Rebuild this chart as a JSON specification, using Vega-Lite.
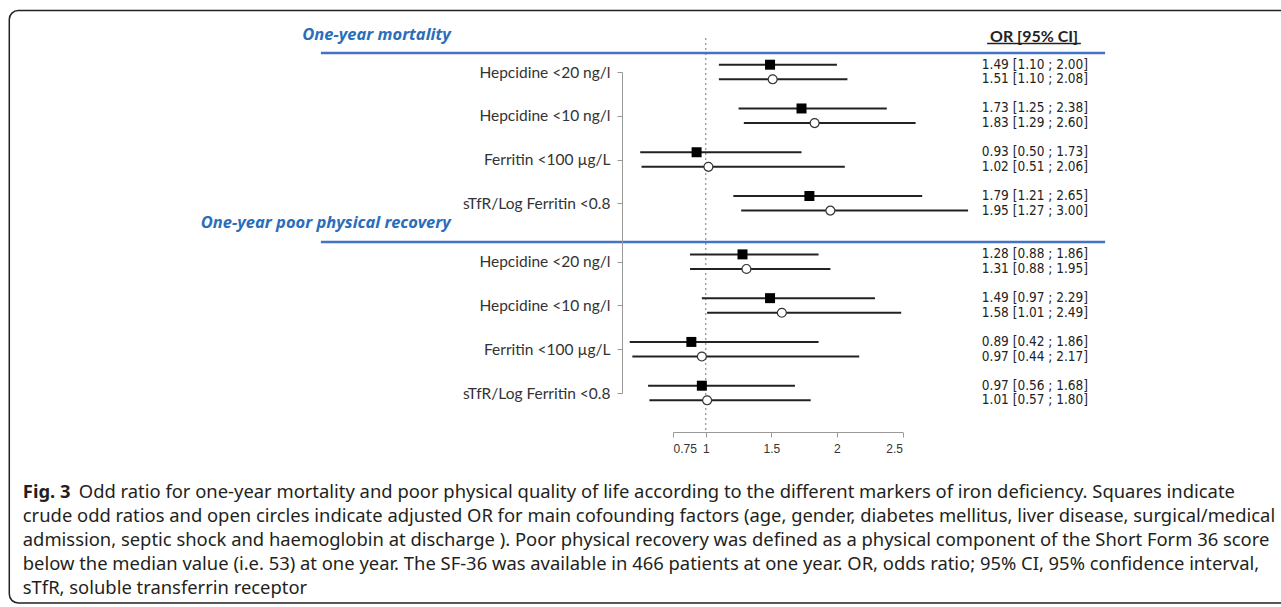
{
  "$schema": "https://vega.github.io/schema/vega-lite/v6.json",
  "autosize": {"type": "none"},
  "padding": {"left": 673, "top": 72, "right": 378.5, "bottom": 214},
  "width": 229.5,
  "height": 321,
  "background": "white",
  "config": {"view": {"stroke": null}, "axis": {"grid": false}},
  "data": {"values": [
    {"group": "One-year mortality", "item": "M|Hepcidine <20 ng/l", "type": "crude", "or": 1.49, "lo": 1.10, "hi": 2.00, "txt": "1.49 [1.10 ; 2.00]"},
    {"group": "One-year mortality", "item": "M|Hepcidine <20 ng/l", "type": "adjusted", "or": 1.51, "lo": 1.10, "hi": 2.08, "txt": "1.51 [1.10 ; 2.08]"},
    {"group": "One-year mortality", "item": "M|Hepcidine <10 ng/l", "type": "crude", "or": 1.73, "lo": 1.25, "hi": 2.38, "txt": "1.73 [1.25 ; 2.38]"},
    {"group": "One-year mortality", "item": "M|Hepcidine <10 ng/l", "type": "adjusted", "or": 1.83, "lo": 1.29, "hi": 2.60, "txt": "1.83 [1.29 ; 2.60]"},
    {"group": "One-year mortality", "item": "M|Ferritin <100 µg/L", "type": "crude", "or": 0.93, "lo": 0.50, "hi": 1.73, "txt": "0.93 [0.50 ; 1.73]"},
    {"group": "One-year mortality", "item": "M|Ferritin <100 µg/L", "type": "adjusted", "or": 1.02, "lo": 0.51, "hi": 2.06, "txt": "1.02 [0.51 ; 2.06]"},
    {"group": "One-year mortality", "item": "M|sTfR/Log Ferritin <0.8", "type": "crude", "or": 1.79, "lo": 1.21, "hi": 2.65, "txt": "1.79 [1.21 ; 2.65]"},
    {"group": "One-year mortality", "item": "M|sTfR/Log Ferritin <0.8", "type": "adjusted", "or": 1.95, "lo": 1.27, "hi": 3.00, "txt": "1.95 [1.27 ; 3.00]"},
    {"group": "One-year poor physical recovery", "item": "R|Hepcidine <20 ng/l", "type": "crude", "or": 1.28, "lo": 0.88, "hi": 1.86, "txt": "1.28 [0.88 ; 1.86]"},
    {"group": "One-year poor physical recovery", "item": "R|Hepcidine <20 ng/l", "type": "adjusted", "or": 1.31, "lo": 0.88, "hi": 1.95, "txt": "1.31 [0.88 ; 1.95]"},
    {"group": "One-year poor physical recovery", "item": "R|Hepcidine <10 ng/l", "type": "crude", "or": 1.49, "lo": 0.97, "hi": 2.29, "txt": "1.49 [0.97 ; 2.29]"},
    {"group": "One-year poor physical recovery", "item": "R|Hepcidine <10 ng/l", "type": "adjusted", "or": 1.58, "lo": 1.01, "hi": 2.49, "txt": "1.58 [1.01 ; 2.49]"},
    {"group": "One-year poor physical recovery", "item": "R|Ferritin <100 µg/L", "type": "crude", "or": 0.89, "lo": 0.42, "hi": 1.86, "txt": "0.89 [0.42 ; 1.86]"},
    {"group": "One-year poor physical recovery", "item": "R|Ferritin <100 µg/L", "type": "adjusted", "or": 0.97, "lo": 0.44, "hi": 2.17, "txt": "0.97 [0.44 ; 2.17]"},
    {"group": "One-year poor physical recovery", "item": "R|sTfR/Log Ferritin <0.8", "type": "crude", "or": 0.97, "lo": 0.56, "hi": 1.68, "txt": "0.97 [0.56 ; 1.68]"},
    {"group": "One-year poor physical recovery", "item": "R|sTfR/Log Ferritin <0.8", "type": "adjusted", "or": 1.01, "lo": 0.57, "hi": 1.80, "txt": "1.01 [0.57 ; 1.80]"}
  ]},
  "layer": [
    {
      "data": {"values": [{}]},
      "mark": {"type": "rect", "fill": "transparent", "stroke": "#222", "strokeWidth": 1.5, "cornerRadius": 9, "yOffset": -61.5, "y2Offset": 210},
      "encoding": {
        "x": {"datum": -4.311, "type": "quantitative", "scale": {"domain": [0.75, 2.5], "nice": false, "zero": false}},
        "x2": {"datum": 5.6},
        "y": {"datum": "M|Hepcidine <20 ng/l", "type": "nominal", "scale": {"type": "point", "padding": 0, "domain": ["M|Hepcidine <20 ng/l", "s1", "s2", "M|Hepcidine <10 ng/l", "s3", "s4", "M|Ferritin <100 µg/L", "s5", "s6", "M|sTfR/Log Ferritin <0.8", "s7", "s8", "s9", "R|Hepcidine <20 ng/l", "s10", "s11", "R|Hepcidine <10 ng/l", "s12", "s13", "R|Ferritin <100 µg/L", "s14", "s15", "R|sTfR/Log Ferritin <0.8"]}},
        "y2": {"datum": "R|sTfR/Log Ferritin <0.8"}
      }
    },
    {
      "data": {"values": [{}]},
      "mark": {"type": "rule", "strokeDash": [2, 3], "color": "#777", "strokeWidth": 1, "yOffset": -34, "y2Offset": 37},
      "encoding": {
        "x": {"datum": 1, "type": "quantitative", "scale": {"domain": [0.75, 2.5], "nice": false, "zero": false}},
        "y": {"datum": "M|Hepcidine <20 ng/l", "type": "nominal", "scale": {"type": "point", "padding": 0, "domain": ["M|Hepcidine <20 ng/l", "s1", "s2", "M|Hepcidine <10 ng/l", "s3", "s4", "M|Ferritin <100 µg/L", "s5", "s6", "M|sTfR/Log Ferritin <0.8", "s7", "s8", "s9", "R|Hepcidine <20 ng/l", "s10", "s11", "R|Hepcidine <10 ng/l", "s12", "s13", "R|Ferritin <100 µg/L", "s14", "s15", "R|sTfR/Log Ferritin <0.8"]}},
        "y2": {"datum": "R|sTfR/Log Ferritin <0.8"}
      }
    },
    {
      "transform": [{"filter": "datum.type === 'crude'"}],
      "mark": {"type": "rule", "color": "#222", "strokeWidth": 2, "yOffset": -7.3},
      "encoding": {
        "x": {"field": "lo", "type": "quantitative", "scale": {"domain": [0.75, 2.5], "nice": false, "zero": false},
          "axis": {"title": null, "values": [0.75, 1, 1.5, 2, 2.5], "labelExpr": "'' + datum.value", "offset": 39, "domainColor": "#999", "tickColor": "#999", "tickSize": 5, "labelFont": "Liberation Sans", "labelFontSize": 12, "labelColor": "#333", "labelPadding": 6}},
        "x2": {"field": "hi"},
        "y": {"field": "item", "type": "nominal", "scale": {"type": "point", "padding": 0, "domain": ["M|Hepcidine <20 ng/l", "s1", "s2", "M|Hepcidine <10 ng/l", "s3", "s4", "M|Ferritin <100 µg/L", "s5", "s6", "M|sTfR/Log Ferritin <0.8", "s7", "s8", "s9", "R|Hepcidine <20 ng/l", "s10", "s11", "R|Hepcidine <10 ng/l", "s12", "s13", "R|Ferritin <100 µg/L", "s14", "s15", "R|sTfR/Log Ferritin <0.8"]},
          "axis": {"title": null, "values": ["M|Hepcidine <20 ng/l", "M|Hepcidine <10 ng/l", "M|Ferritin <100 µg/L", "M|sTfR/Log Ferritin <0.8", "R|Hepcidine <20 ng/l", "R|Hepcidine <10 ng/l", "R|Ferritin <100 µg/L", "R|sTfR/Log Ferritin <0.8"], "labelExpr": "split(datum.value, '|')[1]", "offset": 51, "domainColor": "#999", "tickColor": "#999", "tickSize": 5, "labelFont": "Lato", "labelFontSize": 15.5, "labelColor": "#333", "labelPadding": 7, "labelLimit": 400}}
      }
    },
    {
      "transform": [{"filter": "datum.type === 'adjusted'"}],
      "mark": {"type": "rule", "color": "#222", "strokeWidth": 2, "yOffset": 7.3},
      "encoding": {
        "x": {"field": "lo", "type": "quantitative", "scale": {"domain": [0.75, 2.5], "nice": false, "zero": false}},
        "x2": {"field": "hi"},
        "y": {"field": "item", "type": "nominal", "scale": {"type": "point", "padding": 0, "domain": ["M|Hepcidine <20 ng/l", "s1", "s2", "M|Hepcidine <10 ng/l", "s3", "s4", "M|Ferritin <100 µg/L", "s5", "s6", "M|sTfR/Log Ferritin <0.8", "s7", "s8", "s9", "R|Hepcidine <20 ng/l", "s10", "s11", "R|Hepcidine <10 ng/l", "s12", "s13", "R|Ferritin <100 µg/L", "s14", "s15", "R|sTfR/Log Ferritin <0.8"]}}
      }
    },
    {
      "transform": [{"filter": "datum.type === 'crude'"}],
      "mark": {"type": "square", "filled": true, "color": "#000", "opacity": 1, "size": 100, "yOffset": -7.3},
      "encoding": {
        "x": {"field": "or", "type": "quantitative", "scale": {"domain": [0.75, 2.5], "nice": false, "zero": false}},
        "y": {"field": "item", "type": "nominal", "scale": {"type": "point", "padding": 0, "domain": ["M|Hepcidine <20 ng/l", "s1", "s2", "M|Hepcidine <10 ng/l", "s3", "s4", "M|Ferritin <100 µg/L", "s5", "s6", "M|sTfR/Log Ferritin <0.8", "s7", "s8", "s9", "R|Hepcidine <20 ng/l", "s10", "s11", "R|Hepcidine <10 ng/l", "s12", "s13", "R|Ferritin <100 µg/L", "s14", "s15", "R|sTfR/Log Ferritin <0.8"]}}
      }
    },
    {
      "transform": [{"filter": "datum.type === 'adjusted'"}],
      "mark": {"type": "point", "shape": "circle", "filled": true, "fill": "white", "stroke": "#333", "strokeWidth": 1.2, "opacity": 1, "size": 80, "yOffset": 7.3},
      "encoding": {
        "x": {"field": "or", "type": "quantitative", "scale": {"domain": [0.75, 2.5], "nice": false, "zero": false}},
        "y": {"field": "item", "type": "nominal", "scale": {"type": "point", "padding": 0, "domain": ["M|Hepcidine <20 ng/l", "s1", "s2", "M|Hepcidine <10 ng/l", "s3", "s4", "M|Ferritin <100 µg/L", "s5", "s6", "M|sTfR/Log Ferritin <0.8", "s7", "s8", "s9", "R|Hepcidine <20 ng/l", "s10", "s11", "R|Hepcidine <10 ng/l", "s12", "s13", "R|Ferritin <100 µg/L", "s14", "s15", "R|sTfR/Log Ferritin <0.8"]}}
      }
    },
    {
      "transform": [{"filter": "datum.type === 'crude'"}],
      "mark": {"type": "text", "align": "right", "baseline": "middle", "font": "Liberation Sans Narrow, DejaVu Sans Condensed, sans-serif", "fontSize": 13.5, "color": "#222", "yOffset": -7.3},
      "encoding": {
        "x": {"datum": 3.915, "type": "quantitative", "scale": {"domain": [0.75, 2.5], "nice": false, "zero": false}},
        "y": {"field": "item", "type": "nominal", "scale": {"type": "point", "padding": 0, "domain": ["M|Hepcidine <20 ng/l", "s1", "s2", "M|Hepcidine <10 ng/l", "s3", "s4", "M|Ferritin <100 µg/L", "s5", "s6", "M|sTfR/Log Ferritin <0.8", "s7", "s8", "s9", "R|Hepcidine <20 ng/l", "s10", "s11", "R|Hepcidine <10 ng/l", "s12", "s13", "R|Ferritin <100 µg/L", "s14", "s15", "R|sTfR/Log Ferritin <0.8"]}},
        "text": {"field": "txt"}
      }
    },
    {
      "transform": [{"filter": "datum.type === 'adjusted'"}],
      "mark": {"type": "text", "align": "right", "baseline": "middle", "font": "Liberation Sans Narrow, DejaVu Sans Condensed, sans-serif", "fontSize": 13.5, "color": "#222", "yOffset": 7.3},
      "encoding": {
        "x": {"datum": 3.915, "type": "quantitative", "scale": {"domain": [0.75, 2.5], "nice": false, "zero": false}},
        "y": {"field": "item", "type": "nominal", "scale": {"type": "point", "padding": 0, "domain": ["M|Hepcidine <20 ng/l", "s1", "s2", "M|Hepcidine <10 ng/l", "s3", "s4", "M|Ferritin <100 µg/L", "s5", "s6", "M|sTfR/Log Ferritin <0.8", "s7", "s8", "s9", "R|Hepcidine <20 ng/l", "s10", "s11", "R|Hepcidine <10 ng/l", "s12", "s13", "R|Ferritin <100 µg/L", "s14", "s15", "R|sTfR/Log Ferritin <0.8"]}},
        "text": {"field": "txt"}
      }
    },
    {
      "data": {"values": [{}]},
      "mark": {"type": "rule", "color": "#4472c4", "strokeWidth": 2.5, "yOffset": -19},
      "encoding": {
        "x": {"datum": -1.935, "type": "quantitative", "scale": {"domain": [0.75, 2.5], "nice": false, "zero": false}},
        "x2": {"datum": 4.045},
        "y": {"datum": "M|Hepcidine <20 ng/l", "type": "nominal", "scale": {"type": "point", "padding": 0, "domain": ["M|Hepcidine <20 ng/l", "s1", "s2", "M|Hepcidine <10 ng/l", "s3", "s4", "M|Ferritin <100 µg/L", "s5", "s6", "M|sTfR/Log Ferritin <0.8", "s7", "s8", "s9", "R|Hepcidine <20 ng/l", "s10", "s11", "R|Hepcidine <10 ng/l", "s12", "s13", "R|Ferritin <100 µg/L", "s14", "s15", "R|sTfR/Log Ferritin <0.8"]}}
      }
    },
    {
      "data": {"values": [{}]},
      "mark": {"type": "rule", "color": "#4472c4", "strokeWidth": 2.5, "yOffset": -19.7},
      "encoding": {
        "x": {"datum": -1.935, "type": "quantitative", "scale": {"domain": [0.75, 2.5], "nice": false, "zero": false}},
        "x2": {"datum": 4.045},
        "y": {"datum": "R|Hepcidine <20 ng/l", "type": "nominal", "scale": {"type": "point", "padding": 0, "domain": ["M|Hepcidine <20 ng/l", "s1", "s2", "M|Hepcidine <10 ng/l", "s3", "s4", "M|Ferritin <100 µg/L", "s5", "s6", "M|sTfR/Log Ferritin <0.8", "s7", "s8", "s9", "R|Hepcidine <20 ng/l", "s10", "s11", "R|Hepcidine <10 ng/l", "s12", "s13", "R|Ferritin <100 µg/L", "s14", "s15", "R|sTfR/Log Ferritin <0.8"]}}
      }
    },
    {
      "data": {"values": [{}]},
      "mark": {"type": "text", "text": "One-year mortality", "align": "right", "baseline": "middle", "font": "Noto Sans", "fontSize": 16.5, "fontStyle": "italic", "fontWeight": "bold", "color": "#2a6ebb", "yOffset": -37},
      "encoding": {
        "x": {"datum": -0.944, "type": "quantitative", "scale": {"domain": [0.75, 2.5], "nice": false, "zero": false}},
        "y": {"datum": "M|Hepcidine <20 ng/l", "type": "nominal", "scale": {"type": "point", "padding": 0, "domain": ["M|Hepcidine <20 ng/l", "s1", "s2", "M|Hepcidine <10 ng/l", "s3", "s4", "M|Ferritin <100 µg/L", "s5", "s6", "M|sTfR/Log Ferritin <0.8", "s7", "s8", "s9", "R|Hepcidine <20 ng/l", "s10", "s11", "R|Hepcidine <10 ng/l", "s12", "s13", "R|Ferritin <100 µg/L", "s14", "s15", "R|sTfR/Log Ferritin <0.8"]}}
      }
    },
    {
      "data": {"values": [{}]},
      "mark": {"type": "text", "text": "One-year poor physical recovery", "align": "right", "baseline": "middle", "font": "Noto Sans", "fontSize": 16.5, "fontStyle": "italic", "fontWeight": "bold", "color": "#2a6ebb", "yOffset": -38.7},
      "encoding": {
        "x": {"datum": -0.944, "type": "quantitative", "scale": {"domain": [0.75, 2.5], "nice": false, "zero": false}},
        "y": {"datum": "R|Hepcidine <20 ng/l", "type": "nominal", "scale": {"type": "point", "padding": 0, "domain": ["M|Hepcidine <20 ng/l", "s1", "s2", "M|Hepcidine <10 ng/l", "s3", "s4", "M|Ferritin <100 µg/L", "s5", "s6", "M|sTfR/Log Ferritin <0.8", "s7", "s8", "s9", "R|Hepcidine <20 ng/l", "s10", "s11", "R|Hepcidine <10 ng/l", "s12", "s13", "R|Ferritin <100 µg/L", "s14", "s15", "R|sTfR/Log Ferritin <0.8"]}}
      }
    },
    {
      "data": {"values": [{}]},
      "mark": {"type": "text", "text": "OR [95% CI]", "align": "center", "baseline": "middle", "font": "Lato", "fontSize": 16, "fontWeight": "bold", "color": "#222", "yOffset": -35.3},
      "encoding": {
        "x": {"datum": 3.503, "type": "quantitative", "scale": {"domain": [0.75, 2.5], "nice": false, "zero": false}},
        "y": {"datum": "M|Hepcidine <20 ng/l", "type": "nominal", "scale": {"type": "point", "padding": 0, "domain": ["M|Hepcidine <20 ng/l", "s1", "s2", "M|Hepcidine <10 ng/l", "s3", "s4", "M|Ferritin <100 µg/L", "s5", "s6", "M|sTfR/Log Ferritin <0.8", "s7", "s8", "s9", "R|Hepcidine <20 ng/l", "s10", "s11", "R|Hepcidine <10 ng/l", "s12", "s13", "R|Ferritin <100 µg/L", "s14", "s15", "R|sTfR/Log Ferritin <0.8"]}}
      }
    },
    {
      "data": {"values": [{}]},
      "mark": {"type": "rule", "color": "#222", "strokeWidth": 1.3, "yOffset": -28.5},
      "encoding": {
        "x": {"datum": 3.145, "type": "quantitative", "scale": {"domain": [0.75, 2.5], "nice": false, "zero": false}},
        "x2": {"datum": 3.86},
        "y": {"datum": "M|Hepcidine <20 ng/l", "type": "nominal", "scale": {"type": "point", "padding": 0, "domain": ["M|Hepcidine <20 ng/l", "s1", "s2", "M|Hepcidine <10 ng/l", "s3", "s4", "M|Ferritin <100 µg/L", "s5", "s6", "M|sTfR/Log Ferritin <0.8", "s7", "s8", "s9", "R|Hepcidine <20 ng/l", "s10", "s11", "R|Hepcidine <10 ng/l", "s12", "s13", "R|Ferritin <100 µg/L", "s14", "s15", "R|sTfR/Log Ferritin <0.8"]}}
      }
    },
    {
      "data": {"values": [{}]},
      "mark": {"type": "text", "text": "Fig. 3", "align": "left", "baseline": "middle", "font": "Noto Sans", "fontSize": 18.4, "fontWeight": "bold", "color": "#231f20", "yOffset": 98.7},
      "encoding": {
        "x": {"datum": -4.208, "type": "quantitative", "scale": {"domain": [0.75, 2.5], "nice": false, "zero": false}},
        "y": {"datum": "R|sTfR/Log Ferritin <0.8", "type": "nominal", "scale": {"type": "point", "padding": 0, "domain": ["M|Hepcidine <20 ng/l", "s1", "s2", "M|Hepcidine <10 ng/l", "s3", "s4", "M|Ferritin <100 µg/L", "s5", "s6", "M|sTfR/Log Ferritin <0.8", "s7", "s8", "s9", "R|Hepcidine <20 ng/l", "s10", "s11", "R|Hepcidine <10 ng/l", "s12", "s13", "R|Ferritin <100 µg/L", "s14", "s15", "R|sTfR/Log Ferritin <0.8"]}}
      }
    },
    {
      "data": {"values": [{}]},
      "mark": {"type": "text", "text": "Odd ratio for one-year mortality and poor physical quality of life according to the different markers of iron deficiency. Squares indicate", "align": "left", "baseline": "middle", "font": "Noto Sans", "fontSize": 18.4, "color": "#231f20", "dx": 56, "yOffset": 98.7},
      "encoding": {
        "x": {"datum": -4.208, "type": "quantitative", "scale": {"domain": [0.75, 2.5], "nice": false, "zero": false}},
        "y": {"datum": "R|sTfR/Log Ferritin <0.8", "type": "nominal", "scale": {"type": "point", "padding": 0, "domain": ["M|Hepcidine <20 ng/l", "s1", "s2", "M|Hepcidine <10 ng/l", "s3", "s4", "M|Ferritin <100 µg/L", "s5", "s6", "M|sTfR/Log Ferritin <0.8", "s7", "s8", "s9", "R|Hepcidine <20 ng/l", "s10", "s11", "R|Hepcidine <10 ng/l", "s12", "s13", "R|Ferritin <100 µg/L", "s14", "s15", "R|sTfR/Log Ferritin <0.8"]}}
      }
    },
    {
      "data": {"values": [{}]},
      "mark": {"type": "text", "text": "crude odd ratios and open circles indicate adjusted OR for main cofounding factors (age, gender, diabetes mellitus, liver disease, surgical/medical", "align": "left", "baseline": "middle", "font": "Noto Sans", "fontSize": 18.4, "color": "#231f20", "yOffset": 122.7},
      "encoding": {
        "x": {"datum": -4.208, "type": "quantitative", "scale": {"domain": [0.75, 2.5], "nice": false, "zero": false}},
        "y": {"datum": "R|sTfR/Log Ferritin <0.8", "type": "nominal", "scale": {"type": "point", "padding": 0, "domain": ["M|Hepcidine <20 ng/l", "s1", "s2", "M|Hepcidine <10 ng/l", "s3", "s4", "M|Ferritin <100 µg/L", "s5", "s6", "M|sTfR/Log Ferritin <0.8", "s7", "s8", "s9", "R|Hepcidine <20 ng/l", "s10", "s11", "R|Hepcidine <10 ng/l", "s12", "s13", "R|Ferritin <100 µg/L", "s14", "s15", "R|sTfR/Log Ferritin <0.8"]}}
      }
    },
    {
      "data": {"values": [{}]},
      "mark": {"type": "text", "text": "admission, septic shock and haemoglobin at discharge ). Poor physical recovery was defined as a physical component of the Short Form 36 score", "align": "left", "baseline": "middle", "font": "Noto Sans", "fontSize": 18.4, "color": "#231f20", "yOffset": 146.7},
      "encoding": {
        "x": {"datum": -4.208, "type": "quantitative", "scale": {"domain": [0.75, 2.5], "nice": false, "zero": false}},
        "y": {"datum": "R|sTfR/Log Ferritin <0.8", "type": "nominal", "scale": {"type": "point", "padding": 0, "domain": ["M|Hepcidine <20 ng/l", "s1", "s2", "M|Hepcidine <10 ng/l", "s3", "s4", "M|Ferritin <100 µg/L", "s5", "s6", "M|sTfR/Log Ferritin <0.8", "s7", "s8", "s9", "R|Hepcidine <20 ng/l", "s10", "s11", "R|Hepcidine <10 ng/l", "s12", "s13", "R|Ferritin <100 µg/L", "s14", "s15", "R|sTfR/Log Ferritin <0.8"]}}
      }
    },
    {
      "data": {"values": [{}]},
      "mark": {"type": "text", "text": "below the median value (i.e. 53) at one year. The SF-36 was available in 466 patients at one year. OR, odds ratio; 95% CI, 95% confidence interval,", "align": "left", "baseline": "middle", "font": "Noto Sans", "fontSize": 18.4, "color": "#231f20", "yOffset": 170.7},
      "encoding": {
        "x": {"datum": -4.208, "type": "quantitative", "scale": {"domain": [0.75, 2.5], "nice": false, "zero": false}},
        "y": {"datum": "R|sTfR/Log Ferritin <0.8", "type": "nominal", "scale": {"type": "point", "padding": 0, "domain": ["M|Hepcidine <20 ng/l", "s1", "s2", "M|Hepcidine <10 ng/l", "s3", "s4", "M|Ferritin <100 µg/L", "s5", "s6", "M|sTfR/Log Ferritin <0.8", "s7", "s8", "s9", "R|Hepcidine <20 ng/l", "s10", "s11", "R|Hepcidine <10 ng/l", "s12", "s13", "R|Ferritin <100 µg/L", "s14", "s15", "R|sTfR/Log Ferritin <0.8"]}}
      }
    },
    {
      "data": {"values": [{}]},
      "mark": {"type": "text", "text": "sTfR, soluble transferrin receptor", "align": "left", "baseline": "middle", "font": "Noto Sans", "fontSize": 18.4, "color": "#231f20", "yOffset": 194.7},
      "encoding": {
        "x": {"datum": -4.208, "type": "quantitative", "scale": {"domain": [0.75, 2.5], "nice": false, "zero": false}},
        "y": {"datum": "R|sTfR/Log Ferritin <0.8", "type": "nominal", "scale": {"type": "point", "padding": 0, "domain": ["M|Hepcidine <20 ng/l", "s1", "s2", "M|Hepcidine <10 ng/l", "s3", "s4", "M|Ferritin <100 µg/L", "s5", "s6", "M|sTfR/Log Ferritin <0.8", "s7", "s8", "s9", "R|Hepcidine <20 ng/l", "s10", "s11", "R|Hepcidine <10 ng/l", "s12", "s13", "R|Ferritin <100 µg/L", "s14", "s15", "R|sTfR/Log Ferritin <0.8"]}}
      }
    }
  ]
}
